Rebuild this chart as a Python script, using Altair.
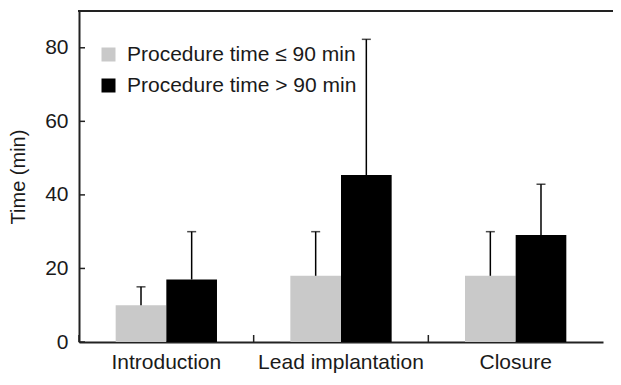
import altair as alt
import pandas as pd

categories = ["Introduction", "Lead implantation", "Closure"]
groups = ["Procedure time \u2264 90 min", "Procedure time > 90 min"]
mean_short = [10, 18, 18]
upper_short = [15, 30, 30]
mean_long = [17, 45.4, 29.1]
upper_long = [30, 82.3, 42.9]
y_ticks = [0, 20, 40, 60, 80]
colors = ["#c9c9c9", "#000000"]

rows = []
for i, c in enumerate(categories):
    rows.append({"category": c, "group": groups[0], "mean": mean_short[i], "upper": upper_short[i]})
    rows.append({"category": c, "group": groups[1], "mean": mean_long[i], "upper": upper_long[i]})
df = pd.DataFrame(rows)
tick_df = pd.DataFrame({"v": y_ticks})
cat_df = pd.DataFrame({"category": categories})

W, H = 524, 331
FONT = "Liberation Sans"
TXT = "#1a1a1a"
LINE = "#222222"

x_enc = alt.X(
    "category:N",
    sort=categories,
    scale=alt.Scale(domain=categories, paddingInner=0, paddingOuter=0),
    axis=alt.Axis(title=None, labelFontSize=21, labelFont=FONT, labelColor=TXT,
                  labelPadding=9, ticks=False, domainColor=LINE, domainWidth=2,
                  labelAngle=0, labelLimit=0),
)
xoff = alt.XOffset("group:N", sort=groups,
                   scale=alt.Scale(domain=groups, paddingInner=0, paddingOuter=0.724))
y_scale = alt.Scale(domain=[0, 90], nice=False)

bars = alt.Chart(df).mark_bar(stroke=None).encode(
    x=x_enc,
    xOffset=xoff,
    y=alt.Y("mean:Q", scale=y_scale,
            axis=alt.Axis(title="Time (min)", values=y_ticks, grid=False, ticks=False,
                          labelFontSize=21, labelFont=FONT, labelColor=TXT, labelPadding=11,
                          titleFontSize=20, titleFont=FONT, titleFontWeight="normal",
                          titleColor=TXT, titlePadding=16, domainColor=LINE, domainWidth=2)),
    color=alt.Color("group:N", sort=groups,
                    scale=alt.Scale(domain=groups, range=colors),
                    legend=alt.Legend(title=None, orient="none", legendX=19, legendY=33,
                                      symbolType="square", symbolSize=196, symbolStrokeWidth=0,
                                      labelFontSize=21, labelFont=FONT, labelColor=TXT,
                                      labelOffset=8, rowPadding=9, padding=0, labelLimit=0)),
)

err = alt.Chart(df).mark_rule(color="#000000", strokeWidth=1.5).encode(
    x=alt.X("category:N", sort=categories),
    xOffset=xoff,
    y=alt.Y("mean:Q", scale=y_scale),
    y2="upper:Q",
)

caps = alt.Chart(df).mark_tick(color="#000000", thickness=1.5, size=9, orient="horizontal").encode(
    x=alt.X("category:N", sort=categories),
    xOffset=xoff,
    y=alt.Y("upper:Q", scale=y_scale),
)

y_tick_marks = alt.Chart(tick_df).mark_rule(color=LINE, strokeWidth=1.5).encode(
    y=alt.Y("v:Q", scale=y_scale),
    x=alt.value(0),
    x2=alt.value(6),
)

x_tick_marks = alt.Chart(cat_df).mark_rule(color=LINE, strokeWidth=1.5).encode(
    x=alt.X("category:N", sort=categories, bandPosition=0),
    y=alt.value(H),
    y2=alt.value(H - 7),
)

top_frame = alt.Chart(cat_df).mark_rect(color=LINE, stroke=None).encode(
    x=alt.value(-1),
    x2=alt.value(W + 10),
    y=alt.value(-1),
    y2=alt.value(1),
)

chart = alt.layer(bars, err, caps, y_tick_marks, x_tick_marks, top_frame).properties(
    width=W,
    height=H,
    view=alt.ViewBackground(strokeOpacity=0, strokeWidth=0),
    autosize=alt.AutoSizeParams(type="none"),
    padding={"left": 71, "top": 3, "right": 10, "bottom": 31},
).configure(background="white", view=alt.ViewConfig(stroke="transparent", strokeWidth=0))

chart.save("out.html", embed_options={"renderer": "svg", "actions": False})
